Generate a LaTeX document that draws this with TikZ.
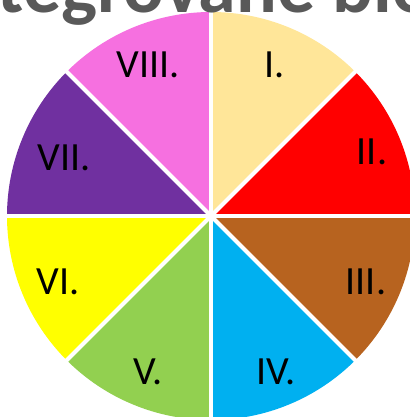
\documentclass[tikz,border=0pt]{standalone}
\usepackage{fontspec}
\setmainfont{Carlito}
\usetikzlibrary{positioning}
\definecolor{secI}{RGB}{255,230,153}
\definecolor{secII}{RGB}{255,0,0}
\definecolor{secIII}{RGB}{183,99,31}
\definecolor{secIV}{RGB}{0,176,240}
\definecolor{secV}{RGB}{146,208,80}
\definecolor{secVI}{RGB}{255,255,0}
\definecolor{secVII}{RGB}{112,48,160}
\definecolor{secVIII}{RGB}{246,112,224}
\definecolor{titlegray}{RGB}{89,89,89}
\tikzset{
  numlabel/.style={font=\fontsize{40}{48}\selectfont, text=black, inner sep=0pt},
  heading/.style={font=\bfseries\fontsize{76}{90}\selectfont, text=titlegray, inner sep=0pt, anchor=base west},
  spoke/.style={white, line width=4pt}
}

\begin{document}
\begin{tikzpicture}[x=1pt,y=1pt]
  \useasboundingbox (0,0) rectangle (409,417);
  \coordinate (c) at (211,201);
  % sectors
  \foreach \s/\col in {45/secI,0/secII,-45/secIII,-90/secIV,-135/secV,-180/secVI,135/secVII,90/secVIII}
  {
  \fill[\col] (c) -- ++(\s:204pt) arc[start angle=\s, end angle=\s+45, radius=204pt] -- cycle;
}
  % white spokes
  \foreach \a in {0,45,...,315}
  {
  \draw[spoke] (c) -- ++(\a:206pt);
}
  \node[numlabel] (n1) at (275,352) {I.};
  \node[numlabel] (n2) at (372,265) {II.};
  \node[numlabel] (n3) at (366,135) {III.};
  \node[numlabel] (n4) at (276,45) {IV.};
  \node[numlabel] (n5) at (148,45) {V.};
  \node[numlabel] (n6) at (58,135) {VI.};
  \node[numlabel] (n7) at (64,259) {VII.};
  \node[numlabel] (n8) at (148,352) {VIII.};
  % title, mostly above the page
  \node[heading] (title) at (-63,404) {Integrované bloky};
\end{tikzpicture}
\end{document}
